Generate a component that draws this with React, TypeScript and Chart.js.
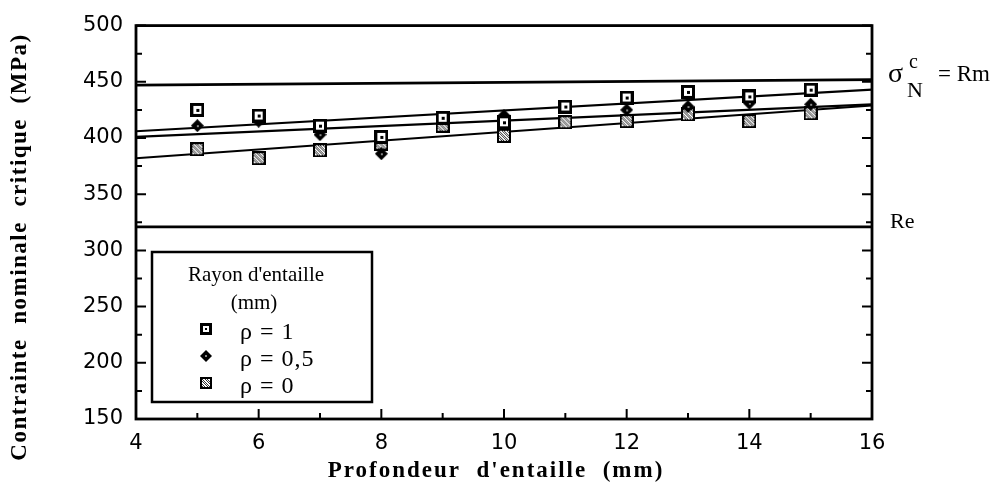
import React, { useEffect, useRef } from "react";
import { Chart, registerables } from "chart.js";
Chart.register(...registerables);

// ---- data ----
const depths = [5, 6, 7, 8, 9, 10, 11, 12, 13, 14, 15];
const rho1 = [425, 420, 411, 401, 418, 414, 428, 436, 441, 437, 443];
const rho05 = [411, 415, 403, 386, 417, 420, null, 425, 428, 431, 430];
const rho0 = [390, 382, 389, 395, 411, 402, 414, 415, 421, 415, 422];
const fitX = [4, 16];
const fitRho1 = [406, 443];
const fitRho05 = [401, 430];
const fitRho0 = [382, 429];
const rmLine = [447, 452];
const reLine = [321, 321];
const xRange = [4, 16];
const yRange = [150, 500];
const xStep = 2;
const yStep = 50;
const legendTitle = ["Rayon d'entaille", "(mm)"];
const seriesLabels = ["ρ = 1", "ρ = 0,5", "ρ = 0"];

const pts = (xs: number[], ys: (number | null)[]) =>
  xs.map((x, i) => ({ x, y: ys[i] }));

function makeMarker(kind: number, s: number): HTMLCanvasElement {
  const c = document.createElement("canvas");
  c.width = s;
  c.height = s;
  const g = c.getContext("2d")!;
  if (kind === 0) {
    g.fillStyle = "#000";
    g.fillRect(0, 0, s, s);
    g.fillStyle = "#fff";
    g.fillRect(3, 3, s - 6, s - 6);
    g.fillStyle = "#000";
    const d = Math.max(2, Math.round(s / 5));
    g.fillRect(Math.round((s - d) / 2), Math.round((s - d) / 2), d, d);
  } else if (kind === 1) {
    g.fillStyle = "#000";
    g.beginPath();
    g.moveTo(s / 2, 0);
    g.lineTo(s, s / 2);
    g.lineTo(s / 2, s);
    g.lineTo(0, s / 2);
    g.closePath();
    g.fill();
    g.fillStyle = "#888";
    g.fillRect(Math.round(s / 2) - 1, Math.round(s / 2) - 1, 2, 2);
  } else {
    g.fillStyle = "#000";
    g.fillRect(0, 0, s, s);
    g.fillStyle = "#fff";
    g.fillRect(2, 2, s - 4, s - 4);
    g.fillStyle = "#333";
    for (let i = 2; i < s - 2; i++) {
      for (let j = 2; j < s - 2; j++) {
        if ((i * 7 + j * 3) % 5 < 2) g.fillRect(i, j, 1, 1);
      }
    }
  }
  return c;
}

export default function App() {
  const ref = useRef<HTMLCanvasElement | null>(null);

  useEffect(() => {
    document.body.style.margin = "0";
    const canvas = ref.current!;
    const m1 = makeMarker(0, 14);
    const m2 = makeMarker(1, 13);
    const m3 = makeMarker(2, 14);
    const l1 = makeMarker(0, 12);
    const l2 = makeMarker(1, 12);
    const l3 = makeMarker(2, 12);

    const decor = {
      id: "decor",
      afterDraw(chart: any) {
        const ctx = chart.ctx as CanvasRenderingContext2D;
        const a = chart.chartArea;
        const xs = chart.scales.x;
        const ys = chart.scales.y;
        ctx.save();
        ctx.strokeStyle = "#000";
        ctx.lineWidth = 2.8;
        ctx.strokeRect(a.left, a.top, a.right - a.left, a.bottom - a.top);
        ctx.lineWidth = 2;
        for (let v = yRange[0]; v <= yRange[1]; v += yStep / 2) {
          const y = ys.getPixelForValue(v);
          const major = (v - yRange[0]) % yStep === 0;
          const len = major ? 10 : 6;
          ctx.beginPath();
          ctx.moveTo(a.left, y);
          ctx.lineTo(a.left + len, y);
          ctx.moveTo(a.right, y);
          ctx.lineTo(a.right - len, y);
          ctx.stroke();
        }
        for (let v = xRange[0]; v <= xRange[1]; v += xStep / 2) {
          const x = xs.getPixelForValue(v);
          const major = (v - xRange[0]) % xStep === 0;
          const len = major ? 10 : 6;
          ctx.beginPath();
          ctx.moveTo(x, a.bottom);
          ctx.lineTo(x, a.bottom - len);
          ctx.stroke();
        }
        ctx.fillStyle = "#000";
        // axis titles
        ctx.font = 'bold 23px "Liberation Serif"';
        (ctx as any).letterSpacing = "1.5px";
        ctx.textAlign = "center";
        ctx.textBaseline = "middle";
        ctx.save();
        ctx.translate(20, 247);
        ctx.rotate(-Math.PI / 2);
        ctx.fillText("Contrainte  nominale  critique  (MPa)", 0, 0);
        ctx.restore();
        (ctx as any).letterSpacing = "2px";
        ctx.fillText("Profondeur  d'entaille  (mm)", (a.left + a.right) / 2 - 8, 471);
        (ctx as any).letterSpacing = "0px";
        // right labels
        ctx.textAlign = "left";
        ctx.textBaseline = "alphabetic";
        ctx.font = '28px "Liberation Serif"';
        ctx.fillText("σ", a.right + 16, 82);
        ctx.font = '20px "Liberation Serif"';
        ctx.fillText("c", a.right + 37, 68);
        ctx.font = '22px "Liberation Serif"';
        ctx.fillText("N", a.right + 35, 97);
        ctx.font = '23px "Liberation Serif"';
        ctx.fillText("= Rm", a.right + 66, 81);
        ctx.font = '22px "Liberation Serif"';
        ctx.fillText("Re", a.right + 18, 228);
        // legend
        const L = 152, T = 252, R = 372, B = 402;
        ctx.fillStyle = "#fff";
        ctx.fillRect(L, T, R - L, B - T);
        ctx.lineWidth = 2.5;
        ctx.strokeRect(L, T, R - L, B - T);
        ctx.fillStyle = "#000";
        ctx.textAlign = "center";
        ctx.font = '21px "Liberation Serif"';
        ctx.fillText(legendTitle[0], (L + R) / 2 - 6, 281);
        ctx.fillText(legendTitle[1], (L + R) / 2 - 8, 309);
        ctx.textAlign = "left";
        ctx.font = '24px "Liberation Serif"';
        (ctx as any).letterSpacing = "1px";
        const marks = [l1, l2, l3];
        seriesLabels.forEach((t, i) => {
          const base = 339 + i * 27;
          ctx.drawImage(marks[i], 200, base - 16);
          ctx.fillText(t, 240, base);
        });
        (ctx as any).letterSpacing = "0px";
        ctx.restore();
      },
    };

    const lineDs = (ys: number[], w: number) => ({
      type: "line" as const,
      data: pts(fitX, ys),
      borderColor: "#000",
      borderWidth: w,
      pointRadius: 0,
      fill: false,
      order: 2,
    });

    const chart = new Chart(canvas, {
      type: "scatter",
      data: {
        datasets: [
          { data: pts(depths, rho1), pointStyle: m1 as any, order: 0, showLine: false },
          { data: pts(depths, rho05), pointStyle: m2 as any, order: 0, showLine: false },
          { data: pts(depths, rho0), pointStyle: m3 as any, order: 0, showLine: false },
          lineDs(fitRho1, 2.2),
          lineDs(fitRho05, 2.2),
          lineDs(fitRho0, 2),
          lineDs(rmLine, 2.8),
          lineDs(reLine, 2.8),
        ] as any,
      },
      plugins: [decor],
      options: {
        animation: false,
        responsive: false,
        layout: { padding: { left: 0, right: 123, top: 20, bottom: 0 } },
        plugins: { legend: { display: false }, tooltip: { enabled: false } },
        scales: {
          x: {
            type: "linear",
            min: xRange[0],
            max: xRange[1],
            grid: { display: false, drawTicks: false },
            border: { display: false },
            ticks: {
              stepSize: xStep,
              color: "#000",
              font: { family: "DejaVu Sans", size: 21 },
              padding: 12,
            },
            afterFit: (s: any) => {
              s.height = 71;
            },
          },
          y: {
            type: "linear",
            min: yRange[0],
            max: yRange[1],
            grid: { display: false, drawTicks: false },
            border: { display: false },
            ticks: {
              stepSize: yStep,
              color: "#000",
              font: { family: "DejaVu Sans", size: 21 },
              padding: 13,
            },
            afterFit: (s: any) => {
              s.width = 136;
            },
          },
        },
      },
    });
    return () => chart.destroy();
  }, []);

  return (
    <div style={{ width: 995, height: 490, background: "#fff" }}>
      <canvas ref={ref} width={995} height={490} style={{ display: "block" }} />
    </div>
  );
}
